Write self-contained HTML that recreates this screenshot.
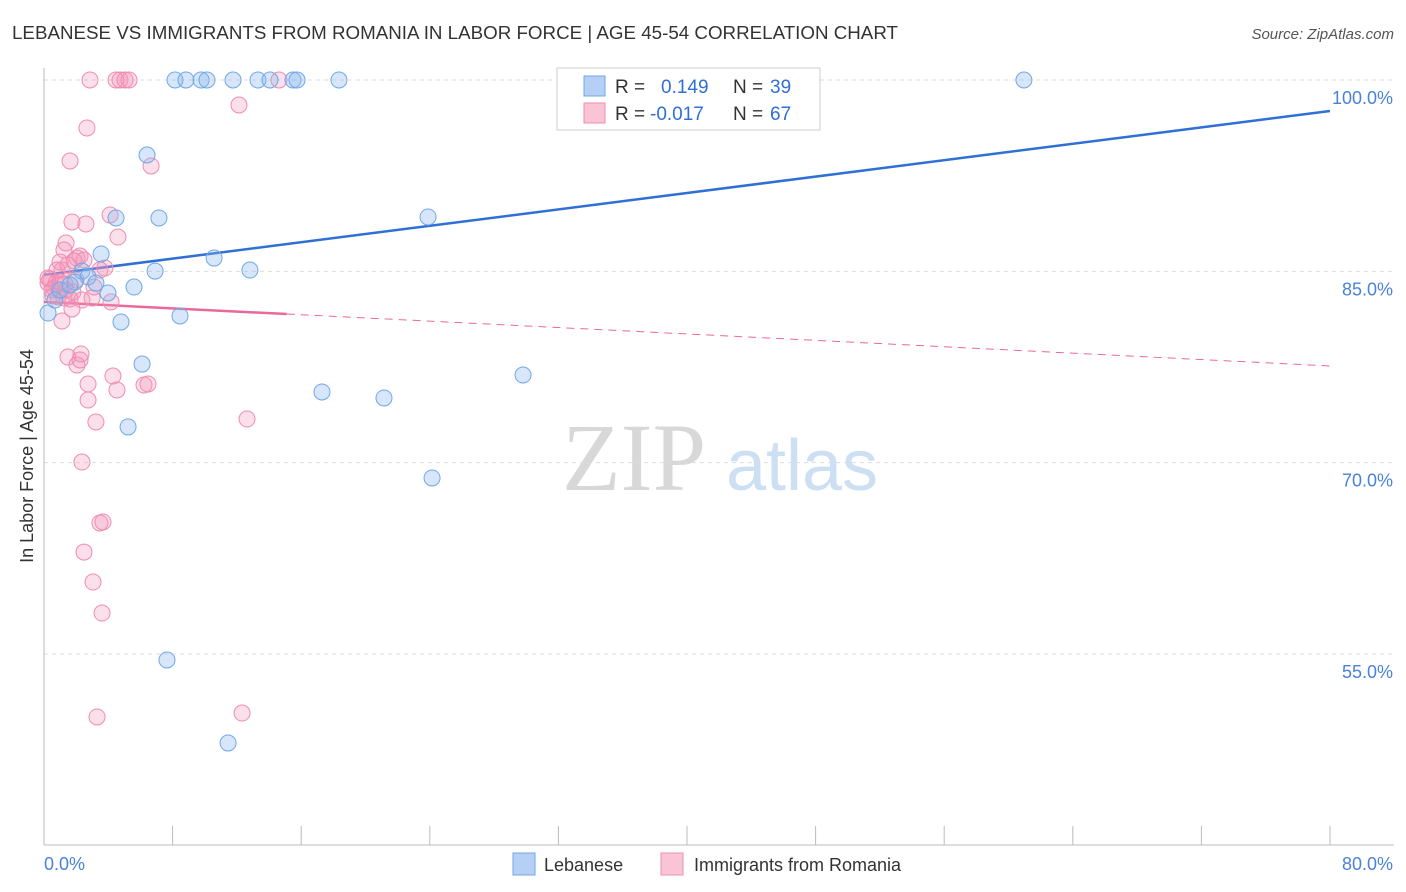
<!DOCTYPE html>
<html><head><meta charset="utf-8"><style>
body{margin:0;background:#fff;font-family:"Liberation Sans",sans-serif;}
#wrap{position:relative;width:1406px;height:892px;overflow:hidden;}
</style></head><body>
<div id="wrap">
<svg id="svg" width="1406" height="892" xmlns="http://www.w3.org/2000/svg">
<text x="12" y="39" font-size="18" fill="#333" textLength="886" lengthAdjust="spacingAndGlyphs">LEBANESE VS IMMIGRANTS FROM ROMANIA IN LABOR FORCE | AGE 45-54 CORRELATION CHART</text>
<text x="1394" y="39" font-size="15" fill="#555" font-style="italic" text-anchor="end">Source: ZipAtlas.com</text>
<text x="33" y="456" font-size="18" fill="#333" text-anchor="middle" transform="rotate(-90 33 456)">In Labor Force | Age 45-54</text>
<g>
<text x="634" y="490" font-size="96" fill="#d8d8d8" font-family="Liberation Serif,serif" text-anchor="middle">ZIP</text>
<text x="802" y="490" font-size="72" fill="#cddff3" text-anchor="middle">atlas</text>
</g>
<g id="grid"></g><g id="axes"></g><g id="trend"></g><g id="pts"></g>
<g>
<rect x="557" y="68" width="263" height="62" fill="#fff" stroke="#ccc"/>
<rect x="584" y="76" width="21" height="20" fill="#b5d0f4" stroke="#6fa8e8"/>
<rect x="584" y="103" width="21" height="20" fill="#f9c5d6" stroke="#f08cb0"/>
<text x="615" y="93" font-size="19" fill="#333">R = </text><text x="661" y="93" font-size="19" fill="#2f6fd6">0.149</text>
<text x="733" y="93" font-size="19" fill="#333">N = </text><text x="770" y="93" font-size="19" fill="#2f6fd6">39</text>
<text x="615" y="120" font-size="19" fill="#333">R = </text><text x="650" y="120" font-size="19" fill="#2f6fd6">-0.017</text>
<text x="733" y="120" font-size="19" fill="#333">N = </text><text x="770" y="120" font-size="19" fill="#2f6fd6">67</text>
</g>
<g>
<rect x="513" y="853" width="22" height="22" fill="#b5d0f4" stroke="#6fa8e8"/>
<text x="544" y="871" font-size="18" fill="#333">Lebanese</text>
<rect x="661" y="853" width="22" height="22" fill="#f9c5d6" stroke="#f08cb0"/>
<text x="694" y="871" font-size="18" fill="#333">Immigrants from Romania</text>
</g>
</svg>
</div>
<script>
const yTicks=[100,85,70,55];
const yTickLabels=["100.0%","85.0%","70.0%","55.0%"];
const xTickLabels=["0.0%","80.0%"];
const blueX=[8.15,8.83,9.77,10.14,11.76,13.31,14.06,15.49,15.74,18.35,60.96,6.41,4.48,7.15,23.89,3.55,10.58,6.91,12.81,2.36,2.74,1.93,3.23,5.60,3.98,4.79,8.46,6.10,17.29,21.15,29.80,5.23,24.14,7.65,11.45,0.25,0.68,1.0,1.62];
const blueY=[100,100,100,100,100,100,100,100,100,100,100,94.12,89.18,89.18,89.26,86.36,86.04,85.02,85.10,85.02,84.56,84.16,84.08,83.77,83.30,81.03,81.50,77.73,75.54,75.07,76.87,72.80,68.80,54.53,48.02,81.73,82.75,83.54,83.93];
const pinkX=[2.86,4.48,4.73,5.04,5.29,14.62,12.13,2.67,1.62,6.66,4.11,2.61,1.74,4.60,1.37,1.24,2.24,2.05,1.0,1.87,3.79,1.12,0.37,0.75,0.25,0.50,0.87,1.24,1.62,2.99,3.11,4.17,1.74,1.12,2.30,1.49,2.05,2.24,4.29,2.74,6.22,6.47,4.54,2.74,3.23,12.63,2.36,3.48,3.67,2.49,3.05,3.61,3.30,12.32,0.25,0.62,1.0,1.37,0.81,1.49,1.99,2.49,1.80,0.56,1.31,3.48,2.36];
const pinkY=[100,100,100,100,100,100,98.04,96.24,93.65,93.26,89.42,88.71,88.87,87.69,87.22,86.67,86.20,86.04,85.73,85.81,85.26,85.10,84.40,84.08,84.08,83.54,82.99,82.91,82.83,82.91,83.77,82.60,82.05,81.11,78.52,78.28,77.66,78.05,76.79,76.17,76.09,76.17,75.70,74.91,73.19,73.42,70.05,65.27,65.35,62.99,60.64,58.21,50.06,50.37,84.48,83.69,84.16,83.54,85.10,85.50,84.32,85.89,83.38,83.07,84.0,85.10,82.75];
const blueTrend=[84.71,97.57];
const pinkTrend=[82.6,77.58];
const pinkSolidEnd=15.1;
const NS="http://www.w3.org/2000/svg";
const X=v=>44+v/80*1286, Y=v=>80+(100-v)*12.755;
function mk(t,a,p){const e=document.createElementNS(NS,t);for(const k in a)e.setAttribute(k,a[k]);p.appendChild(e);return e;}
const grid=document.getElementById('grid'),axes=document.getElementById('axes');
yTicks.forEach((t,i)=>{
 const l=mk('line',{x1:44,x2:1394,y1:Y(t),y2:Y(t),stroke:'#ddd','stroke-dasharray':'4,4'},grid);
 
 
 const tx=mk('text',{x:1393,y:Y(t)+24,'font-size':18,fill:'#4a82d8','text-anchor':'end'},axes);
 tx.textContent=yTickLabels[i];
 
 
});
mk('line',{x1:44,x2:44,y1:68,y2:845,stroke:'#bbb'},axes);
mk('line',{x1:44,x2:1394,y1:845,y2:845,stroke:'#bbb'},axes);
for(let i=0;i<=10;i++){const tk=mk('line',{x1:X(i*8),x2:X(i*8),y1:826,y2:845,stroke:'#bbb'},axes);
 
 }
const xl0=mk('text',{x:44,y:870,'font-size':18,fill:'#4a82d8'},axes);xl0.textContent=xTickLabels[0];


const xl1=mk('text',{x:1393,y:870,'font-size':18,fill:'#4a82d8','text-anchor':'end'},axes);xl1.textContent=xTickLabels[1];


const tr=document.getElementById('trend');
const bl=mk('line',{x1:X(0),y1:Y(blueTrend[0]),x2:X(80),y2:Y(blueTrend[1]),stroke:'#2f6fd6','stroke-width':2.5},tr);


const pAt=v=>pinkTrend[0]+(pinkTrend[1]-pinkTrend[0])*v/80;
const ps=mk('line',{x1:X(0),y1:Y(pinkTrend[0]),x2:X(pinkSolidEnd),y2:Y(pAt(pinkSolidEnd)),stroke:'#e8699a','stroke-width':2.5},tr);


const pd=mk('line',{x1:X(pinkSolidEnd),y1:Y(pAt(pinkSolidEnd)),x2:X(80),y2:Y(pinkTrend[1]),stroke:'#e8699a','stroke-width':1,'stroke-dasharray':'8,6'},tr);


const pts=document.getElementById('pts');
pinkX.forEach((v,i)=>{const c=mk('circle',{cx:X(v),cy:Y(pinkY[i]),r:8,fill:'rgba(242,150,184,0.3)',stroke:'#f08cb0','stroke-width':1},pts);
 
 });
blueX.forEach((v,i)=>{const c=mk('circle',{cx:X(v),cy:Y(blueY[i]),r:8,fill:'rgba(140,182,238,0.35)',stroke:'#6fa8e8','stroke-width':1},pts);
 
 });
</script>
</body></html>
